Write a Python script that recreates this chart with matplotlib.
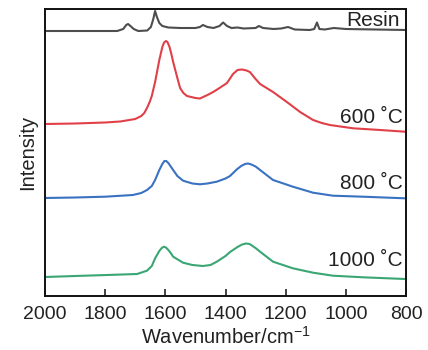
import matplotlib
matplotlib.use("Agg")
import matplotlib.pyplot as plt

plt.rcParams['font.family'] = ['Liberation Sans', 'DejaVu Sans']
plt.rcParams['mathtext.fontset'] = 'custom'
plt.rcParams['mathtext.rm'] = 'Liberation Sans'
plt.rcParams['mathtext.it'] = 'Liberation Sans'

# Raman spectra, stacked with vertical offsets (arbitrary intensity units)
resin_w = [2000, 1900, 1800, 1760, 1740, 1730, 1724, 1716, 1705, 1690, 1660, 1648,
           1640, 1634, 1628, 1620, 1610, 1590, 1550, 1500, 1485, 1475, 1460, 1440,
           1420, 1408, 1395, 1380, 1360, 1340, 1300, 1289, 1275, 1240, 1215, 1192,
           1170, 1120, 1105, 1096, 1088, 1070, 1040, 1000, 900, 800]
resin_i = [265, 265, 265, 265, 267, 271, 272, 270, 267, 265, 265.5, 269,
           277, 285, 279, 273, 270, 268.5, 268, 268, 269, 271, 269, 268,
           270, 273.5, 270, 268, 268.5, 267.5, 268, 270, 268, 267, 267.5, 269,
           266.5, 266, 267, 273.5, 267, 266.5, 268, 267, 266.5, 266]

c600_w = [2000, 1900, 1800, 1750, 1700, 1680, 1670, 1661, 1652, 1645, 1634, 1627,
          1620, 1610, 1604, 1598, 1593, 1586, 1580, 1574, 1560, 1551, 1540, 1528,
          1500, 1485, 1460, 1441, 1420, 1395, 1375, 1360, 1345, 1330, 1319, 1300,
          1285, 1242, 1196, 1152, 1109, 1080, 1053, 976, 886, 803]
c600_i = [172, 172.5, 173.5, 174.5, 177, 180, 183, 188, 194, 200, 214, 225,
          236, 249, 253.5, 255, 254, 249, 242, 234, 218, 208, 203, 200,
          198, 197.5, 201, 204, 208, 213, 222, 226, 226.5, 225.5, 224, 217,
          212, 204, 194, 184, 176, 173, 171, 167.7, 166, 164.3]

c800_w = [2000, 1900, 1800, 1708, 1680, 1661, 1645, 1634, 1620, 1610, 1603, 1597,
          1590, 1582, 1574, 1560, 1541, 1510, 1485, 1460, 1429, 1400, 1385, 1362,
          1348, 1335, 1325, 1314, 1300, 1285, 1242, 1176, 1109, 1043, 943, 803]
c800_i = [98, 98.5, 99.3, 101, 103, 106, 110, 116, 126, 132, 135, 135,
          133, 129.5, 126, 120, 115.3, 112.5, 111.7, 112.5, 114.3, 117.5, 120, 126.7,
          130, 132, 132.5, 131.5, 129.5, 126, 116, 109.3, 103.3, 100.3, 99.3, 97.7]

c1000_w = [2000, 1900, 1794, 1694, 1661, 1645, 1634, 1620, 1612, 1605, 1598, 1590,
           1582, 1574, 1541, 1510, 1475, 1450, 1429, 1400, 1385, 1360, 1345, 1332,
           1320, 1310, 1298, 1285, 1242, 1176, 1109, 1043, 943, 803]
c1000_i = [19, 20, 21, 22, 25.3, 30, 37.7, 45, 48, 49.3, 48.5, 46,
           43, 39.3, 33.3, 31, 30, 31, 34.3, 40, 44, 49, 51.5, 52.5,
           52, 50, 47.5, 44.3, 34.3, 27.7, 23.3, 20.3, 18.7, 17]

series = [
    (resin_w, resin_i, '#4d4d4d', 'Resin'),
    (c600_w, c600_i, '#e04048', '600 \u02daC'),
    (c800_w, c800_i, '#3a72c2', '800 \u02daC'),
    (c1000_w, c1000_i, '#3aa673', '1000 \u02daC'),
]
label_y = [276, 179, 112.5, 36]
label_x = [822, 810, 810, 810]

fig = plt.figure(figsize=(4.28, 3.5), dpi=100)
ax = fig.add_axes([45 / 428, 54 / 350, 361 / 428, 287 / 350])

for (w, i, color, name), ly, lx in zip(series, label_y, label_x):
    ax.plot(w, i, color=color, lw=1.5, solid_joinstyle='round')
    ax.text(lx, ly, name, ha='right', va='center', fontsize=15, color='#222222')

ax.set_xlim(2000, 800)
ax.set_ylim(0, 287)
ax.set_xticks([2000, 1800, 1600, 1400, 1200, 1000, 800])
ax.set_yticks([])
ax.tick_params(axis='x', direction='in', length=5, width=1.2, labelsize=14,
               pad=7, colors='#222222')
for sp in ax.spines.values():
    sp.set_linewidth(1.4)
    sp.set_color('#111111')

ax.set_xlabel('Wavenumber/cm$^{-1}$', fontsize=14.5, labelpad=2, color='#222222')
ax.set_ylabel('Intensity', fontsize=14.5, labelpad=6, color='#222222')

fig.savefig('out.png', dpi=100)
